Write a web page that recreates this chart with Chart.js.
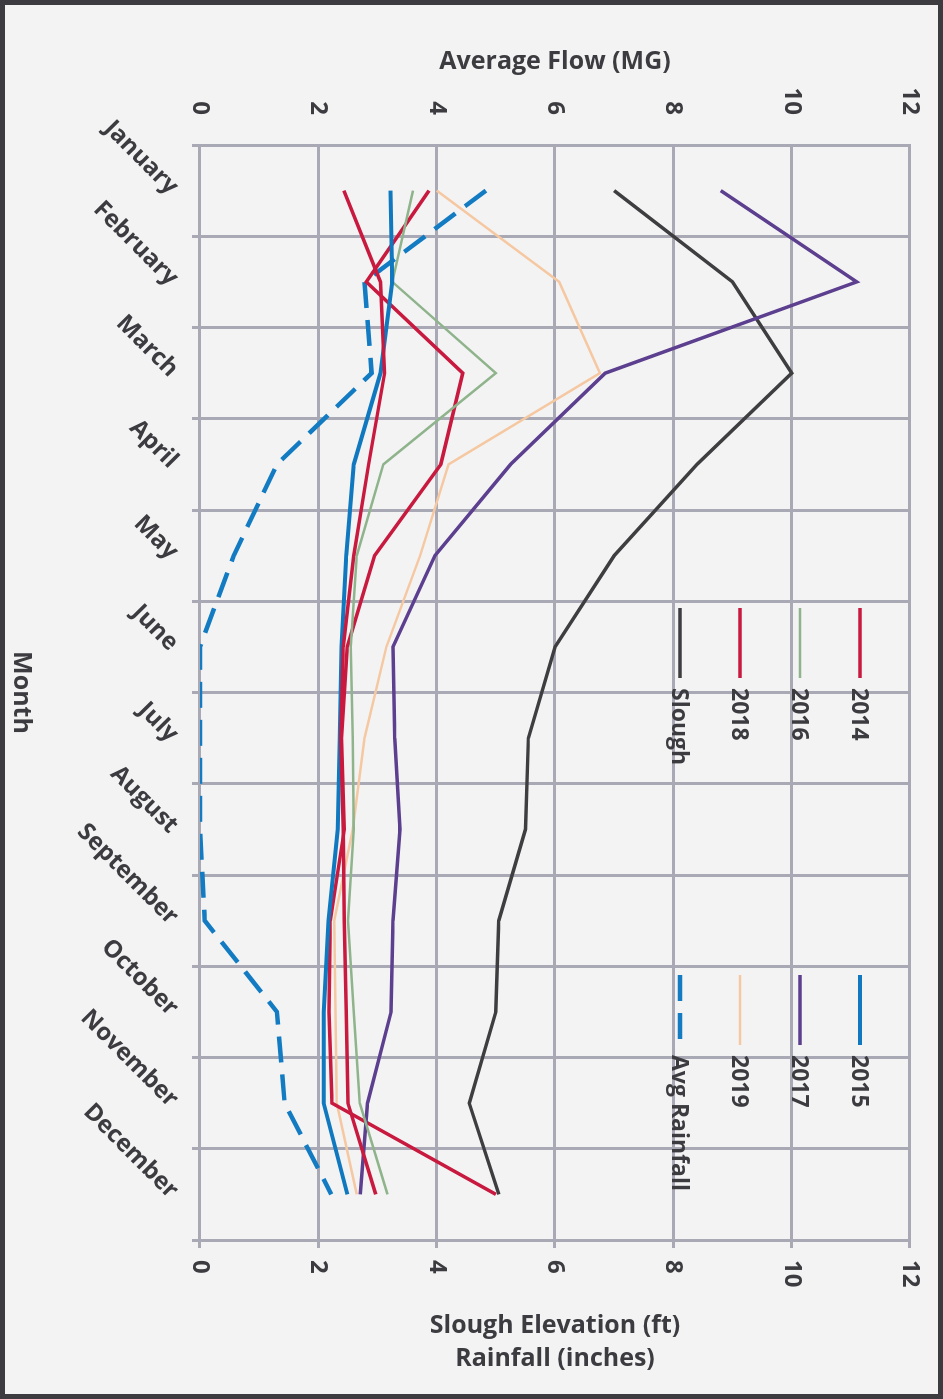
<!DOCTYPE html>
<html>
<head>
<meta charset="utf-8">
<script src="https://cdn.jsdelivr.net/npm/chart.js@4.4.1/dist/chart.umd.min.js"></script>
<style>
  html, body { margin: 0; padding: 0; background: #f3f3f4; }
  #page { position: relative; width: 943px; height: 1399px; overflow: hidden; }
  /* the scanned chart is turned a quarter turn clockwise, so draw it upright and rotate it */
  #rot { position: absolute; left: 0; top: 0; width: 1399px; height: 943px;
         transform-origin: 0 0; transform: translateX(943px) rotate(90deg); }
  #frame { position: absolute; left: 0; top: 0; width: 943px; height: 1399px;
           border: 5px solid #3c3c40; box-sizing: border-box; pointer-events: none; }
</style>
</head>
<body>
<div id="page">
  <div id="rot"><canvas id="flowChart" width="1399" height="943"></canvas></div>
  <div id="frame"></div>
</div>
<script>
const months = ['January', 'February', 'March', 'April', 'May', 'June', 'July',
  'August', 'September', 'October', 'November', 'December'];

// average flow (MG)
const flow2014 = [2.43, 3.05, 3.12, 2.85, 2.6, 2.42, 2.38, 2.42, 2.44, 2.47, 2.5, 2.97];
const flow2015 = [3.22, 3.25, 3.05, 2.6, 2.47, 2.39, 2.36, 2.33, 2.17, 2.09, 2.09, 2.49];
const flow2016 = [3.6, 3.25, 5.0, 3.1, 2.65, 2.55, 2.58, 2.6, 2.5, 2.6, 2.7, 3.17];
const flow2017 = [8.8, 11.1, 6.85, 5.25, 3.97, 3.26, 3.29, 3.38, 3.26, 3.23, 2.83, 2.71];
const flow2018 = [3.87, 2.81, 4.44, 4.07, 2.95, 2.49, 2.39, 2.44, 2.2, 2.18, 2.23, 5.0];
const flow2019 = [4.0, 6.07, 6.76, 4.2, 3.72, 3.15, 2.78, 2.58, 2.27, 2.29, 2.31, 2.65];
// slough elevation (ft) and rainfall (inches)
const slough = [7.0, 9.0, 10.0, 8.4, 7.0, 6.0, 5.55, 5.5, 5.05, 5.0, 4.55, 5.05];
const avgRainfall = [4.83, 2.78, 2.9, 1.3, 0.57, 0.0, 0.0, 0.0, 0.08, 1.3, 1.43, 2.22];

const axisTicks = [0, 2, 4, 6, 8, 10, 12];

const gridColor = '#a9a9b6';
const textColor = '#3b3b40';
const FONT = '"Open Sans", "Noto Sans", sans-serif';

function series(label, data, color, width, axis, dash) {
  return {
    label, data,
    borderColor: color, backgroundColor: color,
    borderWidth: width, borderDash: dash || [],
    yAxisID: axis, pointRadius: 0, tension: 0, fill: false
  };
}

function drawRotated(ctx, text, x, y) {
  ctx.save();
  ctx.translate(x, y);
  ctx.rotate(-Math.PI / 2);
  ctx.fillText(text, 0, 0);
  ctx.restore();
}

// axis titles by hand: the built-in right title would come out upside down after the turn
const axisTitles = {
  id: 'axisTitles',
  afterDraw(chart) {
    const { ctx, chartArea } = chart;
    const midY = (chartArea.top + chartArea.bottom) / 2;
    ctx.save();
    ctx.fillStyle = textColor;
    ctx.font = 'bold 25px ' + FONT;
    ctx.textAlign = 'center';
    ctx.textBaseline = 'middle';
    drawRotated(ctx, 'Average Flow (MG)', chartArea.left - 83, midY);
    drawRotated(ctx, 'Slough Elevation (ft)', chartArea.right + 86, midY);
    drawRotated(ctx, 'Rainfall (inches)', chartArea.right + 119, midY);
    ctx.fillText('Month', (chartArea.left + chartArea.right) / 2, 922);
    ctx.restore();
  }
};

// two-column legend sitting inside the plot
const legendCols = [['2014', '2016', '2018', 'Slough'], ['2015', '2017', '2019', 'Avg Rainfall']];
const insideLegend = {
  id: 'insideLegend',
  afterDraw(chart) {
    const ctx = chart.ctx;
    const colX = [608, 975];
    const rowY = [83, 143, 203, 263];
    ctx.save();
    ctx.font = 'bold 23px ' + FONT;
    ctx.textBaseline = 'middle';
    ctx.textAlign = 'left';
    legendCols.forEach((col, c) => col.forEach((label, r) => {
      const ds = chart.data.datasets.find(d => d.label === label);
      const x = colX[c], y = rowY[r];
      ctx.strokeStyle = ds.borderColor;
      ctx.lineWidth = ds.borderWidth;
      ctx.setLineDash(ds.borderDash);
      ctx.beginPath();
      ctx.moveTo(x, y);
      ctx.lineTo(x + 70, y);
      ctx.stroke();
      ctx.setLineDash([]);
      ctx.fillStyle = textColor;
      ctx.fillText(label, x + 80, y + 1);
    }));
    ctx.restore();
  }
};

const tickFont = { family: FONT, size: 24, weight: 'bold' };

new Chart(document.getElementById('flowChart'), {
  type: 'line',
  data: {
    labels: months,
    datasets: [
      series('2014', flow2014, '#c8193f', 3.5, 'y'),
      series('2015', flow2015, '#0f78bf', 4, 'y'),
      series('2016', flow2016, '#8fb48c', 2.5, 'y'),
      series('2017', flow2017, '#5c3f8e', 3.5, 'y'),
      series('2018', flow2018, '#c8193f', 3.5, 'y'),
      series('2019', flow2019, '#f5c8a2', 2.5, 'y'),
      series('Slough', slough, '#3e3e40', 3.5, 'y2'),
      series('Avg Rainfall', avgRainfall, '#127bc2', 4.5, 'y2', [26, 12])
    ]
  },
  options: {
    responsive: false,
    animation: false,
    layout: { padding: { top: 33 } },
    plugins: { legend: { display: false }, tooltip: { enabled: false } },
    scales: {
      x: {
        offset: true,
        afterFit: s => { s.height = 200; },
        grid: { offset: true, color: gridColor, lineWidth: 3, tickLength: 8 },
        border: { color: gridColor, width: 3 },
        ticks: { color: textColor, font: tickFont, minRotation: 45, maxRotation: 45, padding: 8, autoSkip: false }
      },
      y: {
        position: 'left', min: 0, max: 12,
        afterFit: s => { s.width = 145; },
        afterBuildTicks: s => { s.ticks = axisTicks.map(v => ({ value: v })); },
        // invisible tick marks make the gap, so the label padding does not push the plot down
        grid: { color: gridColor, lineWidth: 3, tickLength: 28, tickColor: 'rgba(0,0,0,0)' },
        border: { color: gridColor, width: 3 },
        ticks: { color: textColor, font: tickFont, padding: 2 }
      },
      y2: {
        position: 'right', min: 0, max: 12,
        afterFit: s => { s.width = 159; },
        afterBuildTicks: s => { s.ticks = axisTicks.map(v => ({ value: v })); },
        grid: { drawOnChartArea: false, color: gridColor, lineWidth: 3, tickLength: 8 },
        border: { color: gridColor, width: 3 },
        ticks: { color: textColor, font: tickFont, padding: 12 }
      }
    }
  },
  plugins: [axisTitles, insideLegend]
});
</script>
</body>
</html>
